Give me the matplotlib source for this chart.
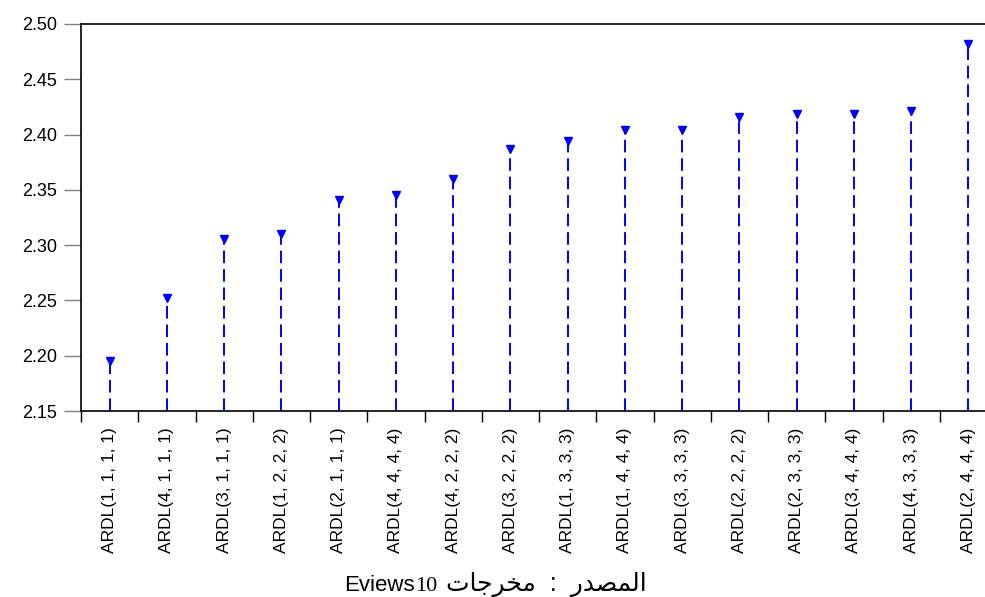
import matplotlib
matplotlib.use("Agg")
import matplotlib.pyplot as plt
from matplotlib.ticker import FixedLocator, NullFormatter

# ARDL model selection criteria (EViews output)
models = [
    "ARDL(1, 1, 1, 1)", "ARDL(4, 1, 1, 1)", "ARDL(3, 1, 1, 1)", "ARDL(1, 2, 2, 2)",
    "ARDL(2, 1, 1, 1)", "ARDL(4, 4, 4, 4)", "ARDL(4, 2, 2, 2)", "ARDL(3, 2, 2, 2)",
    "ARDL(1, 3, 3, 3)", "ARDL(1, 4, 4, 4)", "ARDL(3, 3, 3, 3)", "ARDL(2, 2, 2, 2)",
    "ARDL(2, 3, 3, 3)", "ARDL(3, 4, 4, 4)", "ARDL(4, 3, 3, 3)", "ARDL(2, 4, 4, 4)",
]
criteria = [2.195, 2.252, 2.306, 2.310, 2.341, 2.345, 2.360, 2.387,
            2.394, 2.404, 2.404, 2.416, 2.419, 2.419, 2.421, 2.482]
y_ticks = [2.15, 2.20, 2.25, 2.30, 2.35, 2.40, 2.45, 2.50]

BLUE = "#0000ff"
SANS = ["Liberation Sans", "DejaVu Sans"]

fig = plt.figure(figsize=(9.85, 5.97), dpi=100)
ax = fig.add_axes([81 / 985, 1 - 411 / 597, 916 / 985, 387 / 597])

xs = list(range(len(models)))
ax.vlines(xs, y_ticks[0], criteria, colors=BLUE, linestyles=(0, (6.5, 3)), linewidth=1.4)
ax.plot(xs, criteria, linestyle="none", marker="v", markersize=5.5, color=BLUE)

ax.set_xlim(-0.5, len(models) - 0.5)
ax.set_ylim(y_ticks[0], y_ticks[-1])

# y axis
ax.set_yticks(y_ticks)
ax.set_yticklabels([f"{t:.2f}" for t in y_ticks], family=SANS, fontsize=13)
ax.tick_params(axis="y", direction="out", length=12, width=1, color="#808080", pad=5)

# x axis: ticks at category boundaries, labels at centres
ax.xaxis.set_major_locator(FixedLocator([i - 0.5 for i in range(len(models) + 1)]))
ax.xaxis.set_major_formatter(NullFormatter())
ax.xaxis.set_minor_locator(FixedLocator(xs))
ax.set_xticklabels(models, minor=True, rotation=90, family=SANS, fontsize=12.5)
ax.tick_params(axis="x", which="major", direction="out", length=8, width=1, color="black")
ax.tick_params(axis="x", which="minor", length=0, pad=12)

for side in ("left", "bottom", "top", "right"):
    ax.spines[side].set_linewidth(1.2)

# source caption: "المصدر : مخرجات Eviews10" (Arabic in shaped visual order)
fig.text(415 / 985, 6 / 597, "Eviews", ha="right", va="baseline", family=SANS, fontsize=16)
fig.text(415 / 985, 6 / 597, "10", ha="left", va="baseline",
         family=["Liberation Serif", "DejaVu Serif"], fontsize=16)
fig.text(446 / 985, 6 / 597, "\ufe95\ufe8e\ufe9f\ufeae\ufea8\ufee3  :  \ufead\ufeaa\ufebc\ufee4\ufedf\ufe8d",
         ha="left", va="baseline", family=SANS, fontsize=18)

fig.savefig("out.png", dpi=100)
